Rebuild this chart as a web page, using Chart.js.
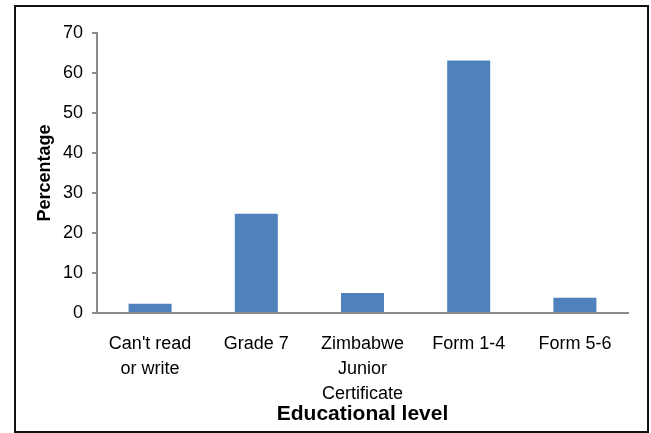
<html>
    <head>
        <meta charset="utf8">
        <title>Educational level</title>
    </head>
    <style>
        body { margin:0; background:#fff; }
        #frame { position:absolute; left:14px; top:5px; width:635px; height:428px; box-sizing:border-box; border:2px solid #111; }
        #wrap { position:absolute; left:0; top:0; width:651px; height:433px; }
    </style>
    <body>
        <div id="frame"></div>
        <div id="wrap">
            <canvas id="LevelChart" width="651" height="433"></canvas>
        </div>
    </body>
    <script src="https://cdn.jsdelivr.net/npm/chart.js@4"></script>
    <script>
        // categories (multi-line labels) and percentages
        var levels = [["Can't read", "or write"], "Grade 7", ["Zimbabwe", "Junior", "Certificate"], "Form 1-4", "Form 5-6"];
        var percent = [2.3, 24.8, 5.0, 63.1, 3.8];
        var yTicks = [0, 10, 20, 30, 40, 50, 60, 70];

        var axisGray = "#8a8a8a";
        var fontFam = "'Liberation Sans', Arial, sans-serif";

        new Chart(document.getElementById("LevelChart"), {
            type: 'bar',
            data: {
                labels: levels,
                datasets: [{
                    data: percent,
                    backgroundColor: "#4f81bd",
                    barPercentage: 0.405,
                    categoryPercentage: 1
                }]
            },
            options: {
                responsive: false,
                animation: false,
                layout: { padding: { top: 33, right: 23, bottom: 0, left: 0 } },
                plugins: {
                    legend: { display: false },
                    tooltip: { enabled: false }
                },
                scales: {
                    x: {
                        grid: { display: false, drawTicks: false },
                        border: { color: axisGray, width: 2 },
                        ticks: {
                            color: "#000",
                            padding: 18,
                            maxRotation: 0,
                            autoSkip: false,
                            font: { family: fontFam, size: 18, lineHeight: 1.4 }
                        },
                        title: {
                            display: true,
                            text: "Educational level",
                            color: "#000",
                            padding: { top: 0, bottom: 6 },
                            font: { family: fontFam, size: 21, weight: 'bold' }
                        },
                        afterFit: function(s) { s.height = 120; }
                    },
                    y: {
                        min: 0,
                        max: 70,
                        afterBuildTicks: function(s) { s.ticks = yTicks.map(function(v){ return {value: v}; }); },
                        grid: { drawOnChartArea: false, drawTicks: true, tickLength: 5, color: axisGray, lineWidth: 2 },
                        border: { color: axisGray, width: 2 },
                        ticks: {
                            color: "#000",
                            padding: 9,
                            font: { family: fontFam, size: 18 }
                        },
                        title: {
                            display: true,
                            text: "Percentage",
                            color: "#000",
                            padding: { top: 34, bottom: 0 },
                            font: { family: fontFam, size: 18, weight: 'bold' }
                        },
                        afterFit: function(s) { s.width = 97; }
                    }
                }
            }
        });
    </script>
</html>
